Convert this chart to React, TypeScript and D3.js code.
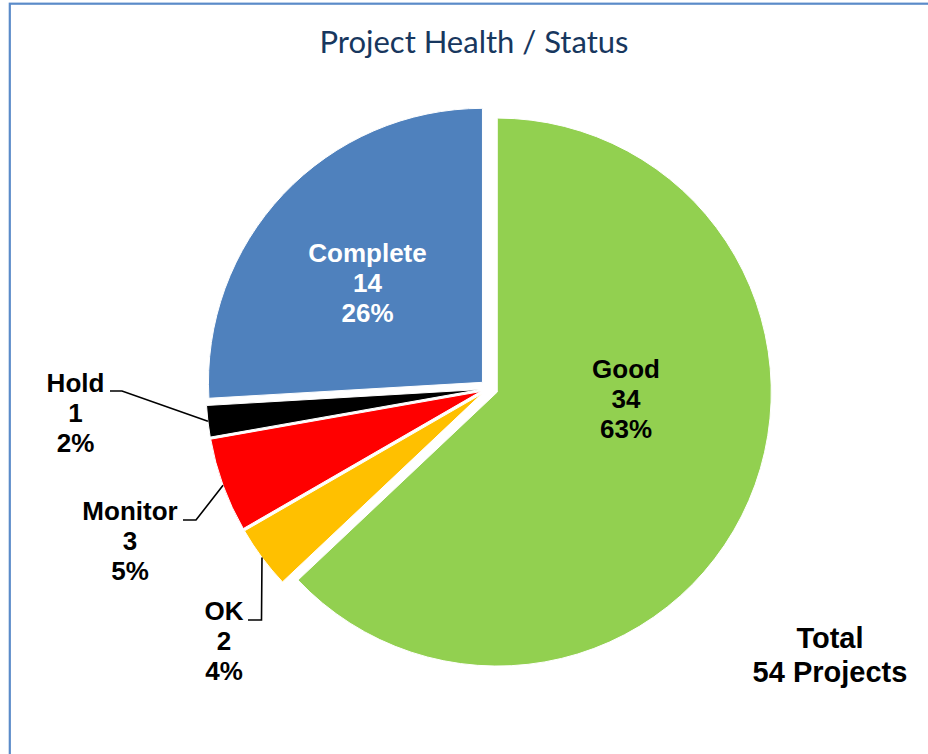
import React from "react";
import * as d3 from "d3";

// chart values
const categories = ["Good", "OK", "Monitor", "Hold", "Complete"];
const counts = [34, 2, 3, 1, 14];
const percentLabels = ["63%", "4%", "5%", "2%", "26%"];
const colors = ["#92D050", "#FFC000", "#FF0000", "#000000", "#4F81BD"];
const totalLines = ["Total", "54 Projects"];

const W = 928;
const H = 754;
const cx = 489;
const cy = 388.5;
const radius = 274;
const explode = 9;
const lineH = 30;

// where each label's first baseline sits, and whether it has a leader line
const labelLayout: Record<string, { x: number; y: number; fill: string; elbow?: [number, number]; end?: [number, number] }> = {
  Good: { x: 626, y: 378, fill: "#000" },
  Complete: { x: 367.5, y: 262, fill: "#fff" },
  Hold: { x: 75.5, y: 392, fill: "#000", elbow: [122, 391], end: [110, 391] },
  Monitor: { x: 130, y: 520, fill: "#000", elbow: [196, 520], end: [183, 520] },
  OK: { x: 224, y: 620, fill: "#000", elbow: [261.5, 620], end: [248, 620] },
};

export default function App() {
  const pie = d3
    .pie<number>()
    .sort(null)
    .value((d) => d);
  const arcs = pie(counts);
  const arc = d3.arc<d3.PieArcDatum<number>>().innerRadius(0).outerRadius(radius);

  const offset = (a: d3.PieArcDatum<number>, r: number) => {
    const mid = (a.startAngle + a.endAngle) / 2;
    return [Math.sin(mid) * r, -Math.cos(mid) * r];
  };

  return (
    <div style={{ position: "absolute", left: 0, top: 0 }}>
      <svg width={W} height={H} style={{ display: "block" }}>
        <rect x={0} y={0} width={W} height={H} fill="#fff" />
        <rect x={9.8} y={3.7} width={W + 20} height={H + 20} fill="none" stroke="#5B8BC9" strokeWidth={2.2} />

        <text
          x={474}
          y={53}
          textAnchor="middle"
          fontFamily="Lato, 'Open Sans', sans-serif"
          fontSize={31}
          fill="#17375E"
        >
          Project Health / Status
        </text>

        {arcs.map((a, i) => {
          const [dx, dy] = offset(a, explode);
          return (
            <path
              key={categories[i]}
              d={arc(a) || ""}
              transform={`translate(${cx + dx},${cy + dy})`}
              fill={colors[i]}
              stroke="#fff"
              strokeWidth={1}
            />
          );
        })}

        {arcs.map((a, i) => {
          const name = categories[i];
          const lay = labelLayout[name];
          if (!lay.elbow || !lay.end) return null;
          const [dx, dy] = offset(a, explode);
          const [px, py] = offset(a, radius);
          const pts: [number, number][] = [[cx + dx + px, cy + dy + py], lay.elbow, lay.end];
          return (
            <path
              key={name + "-leader"}
              d={d3.line()(pts) || ""}
              fill="none"
              stroke="#000"
              strokeWidth={1.6}
            />
          );
        })}

        {categories.map((name, i) => {
          const lay = labelLayout[name];
          const lines = [name, String(counts[i]), percentLabels[i]];
          return (
            <text
              key={name + "-label"}
              textAnchor="middle"
              fontFamily="'Liberation Sans', Arial, sans-serif"
              fontWeight="bold"
              fontSize={26}
              fill={lay.fill}
            >
              {lines.map((t, j) => (
                <tspan key={j} x={lay.x} y={lay.y + j * lineH}>
                  {t}
                </tspan>
              ))}
            </text>
          );
        })}

        <text
          textAnchor="middle"
          fontFamily="'Liberation Sans', Arial, sans-serif"
          fontWeight="bold"
          fontSize={29}
          fill="#000"
        >
          {totalLines.map((t, j) => (
            <tspan key={j} x={830} y={648 + j * 34}>
              {t}
            </tspan>
          ))}
        </text>
      </svg>
    </div>
  );
}
